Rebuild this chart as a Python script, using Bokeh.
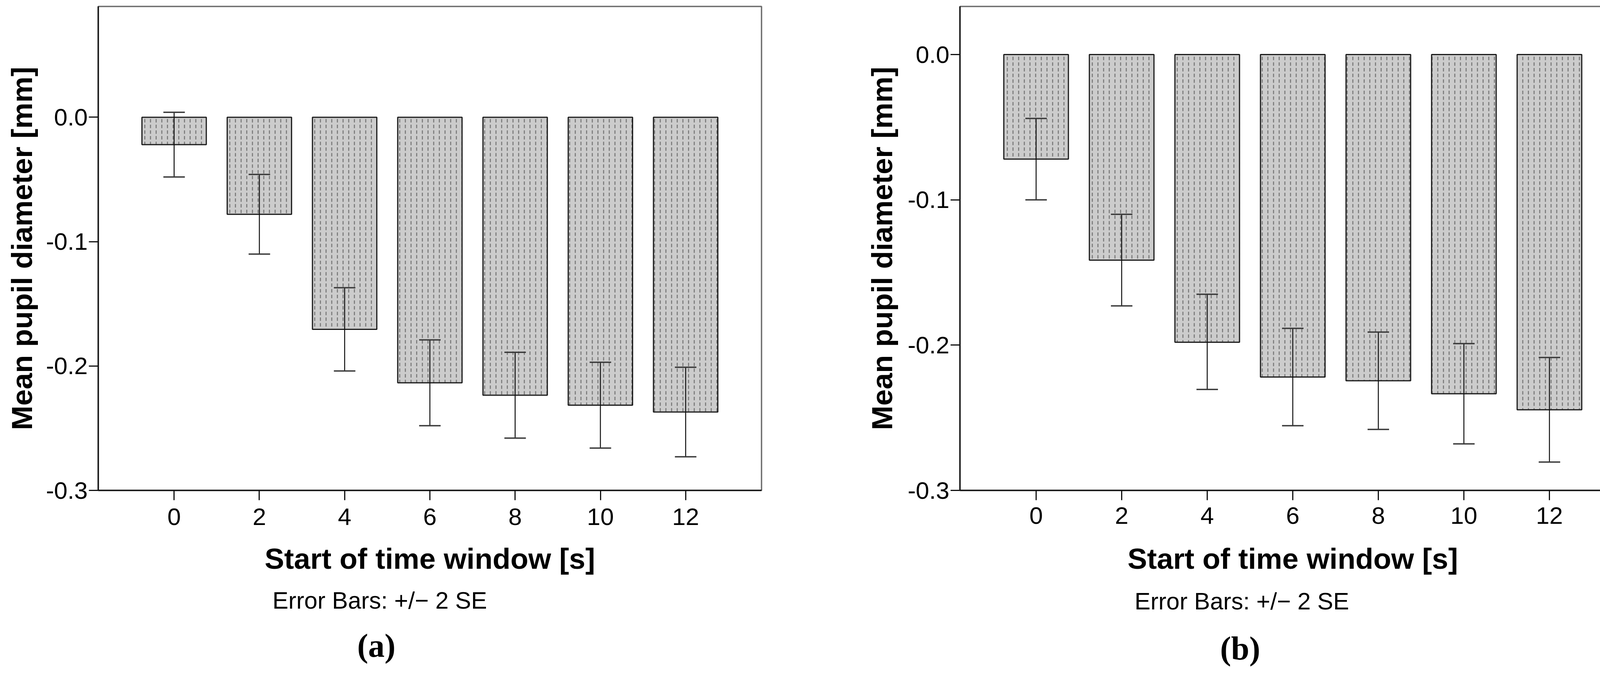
from bokeh.plotting import figure
from bokeh.models import ColumnDataSource, FixedTicker, Whisker, TeeHead, Range1d, Title
from bokeh.layouts import row
from bokeh.embed import file_html
from bokeh.resources import INLINE

# ---------------- data ----------------
start_times = [0, 2, 4, 6, 8, 10, 12]
x_tick_labels = ["0", "2", "4", "6", "8", "10", "12"]
y_ticks = [0.0, -0.1, -0.2, -0.3]
y_tick_labels = ["0.0", "-0.1", "-0.2", "-0.3"]

mean_a = [-0.022, -0.078, -0.1705, -0.2135, -0.2235, -0.2315, -0.237]
upper_a = [0.004, -0.046, -0.137, -0.179, -0.189, -0.197, -0.201]
lower_a = [-0.048, -0.110, -0.204, -0.248, -0.258, -0.266, -0.273]

mean_b = [-0.072, -0.1415, -0.198, -0.222, -0.2245, -0.2335, -0.2445]
upper_b = [-0.044, -0.110, -0.165, -0.1885, -0.191, -0.199, -0.2085]
lower_b = [-0.100, -0.173, -0.2305, -0.2555, -0.258, -0.268, -0.2805]

x_title = "Start of time window [s]"
y_title = "Mean pupil diameter [mm]"
note = "Error Bars: +/\u2212 2 SE"
tags = ["(a)", "(b)"]

SANS = "Liberation Sans"
SERIF = "Liberation Serif"
FIG_H = 1744


def make_panel(means, uppers, lowers, tag, y_top, width, mb_left, mb_right, mb_top,
               frame_bottom, tick_standoff, xlab_standoff, ylab_standoff,
               note_offset, note_standoff, tag_offset, tag_standoff):
    src = ColumnDataSource(dict(x=start_times, top=[0.0] * len(means),
                                bottom=means, upper=uppers, lower=lowers))
    p = figure(width=width, height=FIG_H, output_backend="svg",
               toolbar_location=None, tools="",
               x_range=Range1d(-1.78, 13.78), y_range=Range1d(-0.3, y_top),
               min_border_left=mb_left, min_border_right=mb_right,
               min_border_top=mb_top,
               min_border_bottom=FIG_H + 8 - frame_bottom)
    p.background_fill_color = "white"
    p.border_fill_color = "white"
    p.outline_line_color = "#6e6e6e"
    p.outline_line_width = 3.5
    p.xgrid.visible = False
    p.ygrid.visible = False

    p.vbar(x="x", top="top", bottom="bottom", width=1.51, source=src,
           fill_color="#cccccc", line_color="#1a1a1a", line_width=3,
           hatch_pattern="vertical_dash", hatch_color="#666666",
           hatch_scale=14.5, hatch_weight=2.2)

    w = Whisker(source=src, base="x", upper="upper", lower="lower",
                dimension="height", line_color="#111111", line_width=2.5,
                level="overlay",
                upper_head=TeeHead(size=55, line_color="#3a3a3a", line_width=3.5),
                lower_head=TeeHead(size=55, line_color="#3a3a3a", line_width=3.5))
    p.add_layout(w)

    xa = p.xaxis[0]
    xa.ticker = FixedTicker(ticks=start_times)
    xa.major_label_overrides = {t: l for t, l in zip(start_times, x_tick_labels)}
    xa.axis_line_color = "#111111"
    xa.axis_line_width = 3.5
    xa.major_tick_line_color = "#111111"
    xa.major_tick_line_width = 3
    xa.major_tick_out = 25
    xa.major_tick_in = 0
    xa.minor_tick_out = 0
    xa.minor_tick_in = 0
    xa.major_label_text_font = SANS
    xa.major_label_text_font_size = "62px"
    xa.major_label_text_color = "black"
    xa.major_label_standoff = tick_standoff
    xa.axis_label = x_title
    xa.axis_label_text_font = SANS
    xa.axis_label_text_font_size = "75px"
    xa.axis_label_text_font_style = "bold"
    xa.axis_label_text_color = "black"
    xa.axis_label_standoff = xlab_standoff

    ya = p.yaxis[0]
    ya.ticker = FixedTicker(ticks=y_ticks)
    ya.major_label_overrides = {t: l for t, l in zip(y_ticks, y_tick_labels)}
    ya.axis_line_color = "#111111"
    ya.axis_line_width = 3.5
    ya.major_tick_line_color = "#111111"
    ya.major_tick_line_width = 3
    ya.major_tick_out = 24
    ya.major_tick_in = 0
    ya.minor_tick_out = 0
    ya.minor_tick_in = 0
    ya.major_label_text_font = SANS
    ya.major_label_text_font_size = "62px"
    ya.major_label_text_color = "black"
    ya.major_label_standoff = 3
    ya.axis_label = y_title
    ya.axis_label_text_font = SANS
    ya.axis_label_text_font_size = "75px"
    ya.axis_label_text_font_style = "bold"
    ya.axis_label_text_color = "black"
    ya.axis_label_standoff = ylab_standoff

    p.add_layout(Title(text=note, align="left", offset=note_offset,
                       vertical_align="top", standoff=note_standoff,
                       text_font=SANS, text_font_size="61px",
                       text_font_style="normal", text_color="black"), "below")
    p.add_layout(Title(text=tag, align="left", offset=tag_offset,
                       vertical_align="top", standoff=tag_standoff,
                       text_font=SERIF, text_font_size="84px",
                       text_font_style="bold", text_color="black"), "below")
    return p


pa = make_panel(mean_a, upper_a, lower_a, tags[0], 0.0891, 2092, 251, 143, 16, 1273,
                21, 41, 17, 446, 56, 663, 10)
pb = make_panel(mean_b, upper_b, lower_b, tags[1], 0.0331, 2079, 365, 10, 15, 1262,
                18, 44, 21, 447, 60, 666, 16)

layout = row(pa, pb)
open("out.html", "w").write(file_html(layout, INLINE))
